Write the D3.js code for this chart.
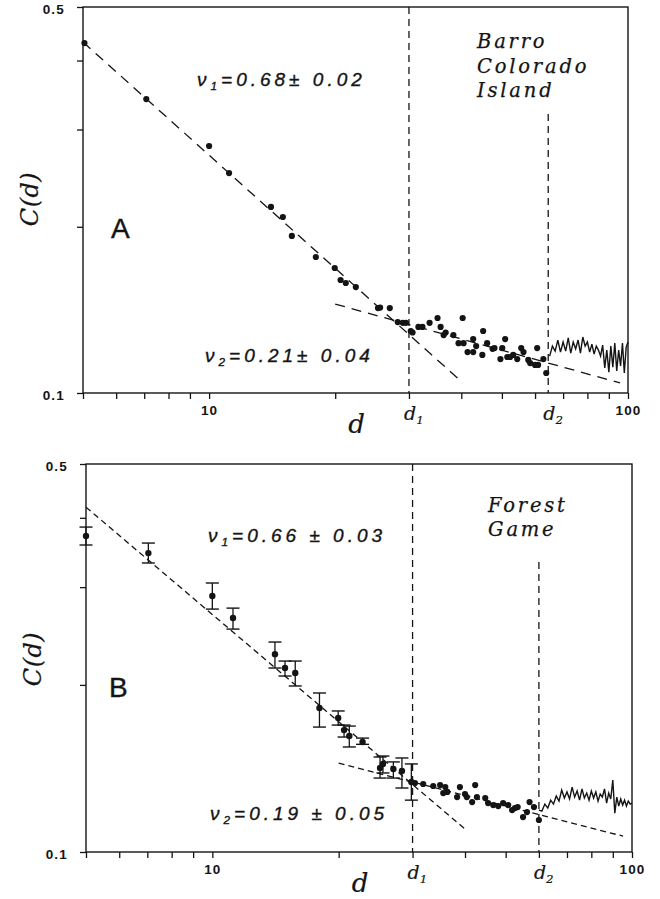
<!DOCTYPE html>
<html>
<head>
<meta charset="utf-8">
<script src="https://cdn.jsdelivr.net/npm/d3@7"></script>
<style>
  body { margin: 0; background: #fff; }
  svg { display: block; }
</style>
</head>
<body>
<div id="chart"></div>
<script>

// AXES
const xTicks = [5, 6, 7, 8, 9, 10, 20, 30, 40, 50, 60, 70, 80, 90, 100];
const xTickLabels = [10, 100];
const yTicks = [0.1, 0.2, 0.3, 0.4, 0.5];
const yTickLabels = [0.1, 0.5];

// PANEL A - Barro Colorado Island
const dotDA = [5.04, 7.08, 10, 11.16, 14.05, 15.0, 15.76, 17.98, 19.95, 20.6, 21.2, 22.4,
  25.3, 25.6, 27.0, 28.2, 29.0, 29.5, 30.3, 30.6, 31.6, 32.3, 33.6, 35.1, 35.7, 36.3, 36.7,
  38.3, 39.4, 40.3, 40.5, 41.4, 42.7, 42.7, 43.4, 44.9, 45.1, 46.1, 47.5, 48.0, 49.6, 50.1,
  50.9, 51.5, 52.3, 53.2, 54.4, 55.6, 56.3, 57.8, 58.4, 60.7, 60.0, 61.0, 62.8, 63.8];
const dotCA = [0.4302, 0.3406, 0.2801, 0.2502, 0.2172, 0.2083, 0.1925, 0.1763, 0.1684, 0.1602, 0.1582, 0.1555,
  0.1425, 0.1428, 0.1425, 0.1344, 0.1340, 0.1340, 0.1295, 0.1287, 0.1317, 0.1317, 0.1340, 0.1367, 0.1317, 0.1273, 0.1287,
  0.1273, 0.1231, 0.1367, 0.1231, 0.1186, 0.1252, 0.1186, 0.1216, 0.1172, 0.1295, 0.1231, 0.1202, 0.1206, 0.1152, 0.1206,
  0.1252, 0.1162, 0.1162, 0.1172, 0.1152, 0.1206, 0.1186, 0.1148, 0.1133, 0.1206, 0.1124, 0.1124, 0.1152, 0.1087];
const noiseDA = [65, 66, 67, 68, 69, 70, 71, 72, 73, 74, 75, 76, 77, 78, 79, 80, 81, 82,
  83, 84, 85, 86, 87, 88, 89, 90, 91, 92, 93, 94, 95, 96, 97, 98, 99, 100];
const noiseCA = [0.1166, 0.1216, 0.1191, 0.1247, 0.1186, 0.1237, 0.1191, 0.1258, 0.1181, 0.1237, 0.1202, 0.1247,
  0.1181, 0.1263, 0.1216, 0.1237, 0.1186, 0.1226, 0.1176, 0.1216, 0.1196, 0.1166, 0.1221, 0.1110,
  0.1196, 0.1091, 0.1216, 0.1114, 0.1231, 0.1096, 0.1196, 0.1119, 0.1231, 0.1087, 0.1211, 0.1237];
const fitA1 = [[5, 0.432], [40.3, 0.1044]];   // nu1 = 0.68
const fitA2 = [[20, 0.1449], [95.7, 0.1043]]; // nu2 = 0.21
const cutsA = [30, 64.5];        // d1, d2
const cutTopA = [0.5, 0.32];     // where the dashed verticals start

// PANEL B - Forest Game
const barDB = [5.0, 7.04, 10, 11.2, 14.1, 14.9, 15.76, 18.0, 19.95, 20.6, 21.2, 22.8, 25.1, 25.5, 27.0, 28.3, 29.8];
const barCB = [0.3709, 0.3455, 0.2891, 0.2639, 0.2272, 0.2145, 0.2101, 0.1817, 0.1743, 0.1658, 0.1618, 0.1578,
  0.1417, 0.1441, 0.1411, 0.1399, 0.1337];
const barHiB = [0.3849, 0.3602, 0.3052, 0.2750, 0.2389, 0.2208, 0.2208, 0.1934, 0.1795, 0.1693, 0.1686, 0.1604,
  0.1483, 0.1489, 0.1453, 0.1477, 0.1441];
const barLoB = [0.3573, 0.3316, 0.2739, 0.2521, 0.2145, 0.2075, 0.1991, 0.1679, 0.1693, 0.1611, 0.1546, 0.1563,
  0.1359, 0.1388, 0.1359, 0.1304, 0.1240];
const dotDB = [30.4, 31.8, 33.6, 34.9, 35.9, 35.5, 36.3, 38.9, 38.3, 40.0, 40.4, 41.6, 42.3, 42.7, 44.7, 45.4,
  46.7, 48.0, 49.3, 50.7, 51.8, 52.6, 53.4, 55.0, 56.2, 57.0, 58.4, 60.0];
const dotCB = [0.1331, 0.1326, 0.1315, 0.1320, 0.1309, 0.1277, 0.1283, 0.1309, 0.1256, 0.1272, 0.1256, 0.1230,
  0.1320, 0.1256, 0.1251, 0.1225, 0.1215, 0.1210, 0.1225, 0.1215, 0.1190, 0.1200, 0.1205, 0.1156, 0.1180,
  0.1230, 0.1205, 0.1142];
const noiseDB = [60, 61, 62, 63, 64, 65, 66, 67, 68, 69, 70, 71, 72, 73, 74, 75, 76, 77, 78, 79, 80,
  81, 82, 83, 84, 85, 86, 87, 88, 89, 90, 91, 92, 93, 94, 95, 96, 97, 98, 99, 100];
const noiseCB = [0.1190, 0.1185, 0.1220, 0.1200, 0.1240, 0.1220, 0.1261, 0.1235, 0.1293, 0.1251, 0.1283,
  0.1246, 0.1309, 0.1256, 0.1288, 0.1240, 0.1299, 0.1251, 0.1277, 0.1240, 0.1288, 0.1251, 0.1283, 0.1235,
  0.1272, 0.1256, 0.1299, 0.1225, 0.1277, 0.1246, 0.1348, 0.1175, 0.1256, 0.1210, 0.1246, 0.1215, 0.1240,
  0.1210, 0.1235, 0.1220, 0.1225];
const fitB1 = [[5, 0.418], [40, 0.110]];     // nu1 = 0.66
const fitB2 = [[20, 0.1446], [95.2, 0.1068]]; // nu2 = 0.19
const cutsB = [30, 60];
const cutTopB = [0.5, 0.333];


const INK = "#141414";
const SANS = "'Liberation Sans', Arial, sans-serif";
const SERIF = "'DejaVu Serif', 'Liberation Serif', serif";
const svg = d3.select("#chart").append("svg").attr("width", 660).attr("height", 899);

// label with subscript: base, sub, rest
function subText(g, x, y, parts, o) {
	const t = g.append("text").attr("x", x).attr("y", y)
		.attr("font-family", o.family).attr("font-style", "italic")
		.attr("font-size", o.size).attr("letter-spacing", o.ls).attr("fill", INK)
		.attr("stroke", INK).attr("stroke-width", o.sw || 0);
	t.append("tspan").text(parts[0]);
	t.append("tspan").attr("font-size", o.size * 0.62).attr("dy", o.size * 0.22).text(parts[1]);
	if (parts[2]) t.append("tspan").attr("dy", -o.size * 0.22).text(parts[2]);
	return t;
}

function drawPanel(p) {
	const x = d3.scaleLog().domain([5, 100]).range([p.left, p.right]);
	const y = d3.scaleLog().domain([0.1, 0.5]).range([p.bottom, p.top]);
	const g = svg.append("g");

	// frame
	g.append("rect").attr("x", p.left).attr("y", p.top)
		.attr("width", p.right - p.left).attr("height", p.bottom - p.top)
		.attr("fill", "none").attr("stroke", INK).attr("stroke-width", 1.4);

	// x axis
	const xa = g.append("g").attr("transform", `translate(0,${p.bottom})`)
		.call(d3.axisBottom(x).tickValues(xTicks).tickSize(6).tickSizeOuter(0).tickPadding(6)
			.tickFormat(d => xTickLabels.includes(d) ? d : ""));
	// y axis
	const ya = g.append("g").attr("transform", `translate(${p.left},0)`)
		.call(d3.axisLeft(y).tickValues(yTicks).tickSize(6).tickSizeOuter(0).tickPadding(12)
			.tickFormat(d => yTickLabels.includes(d) ? d : ""));
	[xa, ya].forEach(a => {
		a.select(".domain").remove();
		a.selectAll("line").attr("stroke", INK).attr("stroke-width", 1.3);
		a.selectAll("text").attr("font-family", SANS).attr("font-weight", "bold")
			.attr("font-size", 13.5).attr("letter-spacing", 1.2).attr("fill", INK);
	});
	ya.selectAll("text").attr("dy", "0.5em");

	// dashed cut lines d1, d2
	p.cuts.forEach((c, i) => {
		g.append("line").attr("x1", x(c)).attr("x2", x(c))
			.attr("y1", y(p.cutTop[i])).attr("y2", p.bottom)
			.attr("stroke", INK).attr("stroke-width", 1.3).attr("stroke-dasharray", "7,5");
		subText(g, x(c) - 5, p.bottom + 27, ["d", String(i + 1)],
			{ family: SERIF, size: 19, ls: 0, sw: 0.2 });
	});

	// fitted power laws
	const line = d3.line().x(d => x(d[0])).y(d => y(d[1]));
	p.fits.forEach(f => {
		g.append("path").attr("d", line(f)).attr("fill", "none")
			.attr("stroke", INK).attr("stroke-width", 1.3).attr("stroke-dasharray", p.fitDash);
	});

	// noisy tail
	g.append("path").attr("d", line(d3.zip(p.noiseD, p.noiseC)))
		.attr("fill", "none").attr("stroke", INK).attr("stroke-width", 1.4);

	// error bars
	if (p.barD) {
		p.barD.forEach((d, i) => {
			const cx = x(d);
			g.append("line").attr("x1", cx).attr("x2", cx)
				.attr("y1", y(p.barHi[i])).attr("y2", y(p.barLo[i]))
				.attr("stroke", INK).attr("stroke-width", 1.3);
			[p.barHi[i], p.barLo[i]].forEach(v => {
				g.append("line").attr("x1", cx - 6.5).attr("x2", cx + 6.5)
					.attr("y1", y(v)).attr("y2", y(v))
					.attr("stroke", INK).attr("stroke-width", 1.4);
			});
		});
		g.selectAll(null).data(d3.zip(p.barD, p.barC)).enter().append("circle")
			.attr("cx", d => x(d[0])).attr("cy", d => y(d[1])).attr("r", 3.2).attr("fill", INK);
	}

	// points
	g.selectAll(null).data(d3.zip(p.dotD, p.dotC)).enter().append("circle")
		.attr("cx", d => x(d[0])).attr("cy", d => y(d[1])).attr("r", 3.1).attr("fill", INK);

	// exponents
	const nuFont = { family: SANS, size: 19, ls: 4.0, sw: 0.35 };
	subText(g, p.nu1Pos[0], p.nu1Pos[1], ["ν", "1", p.nu1], nuFont);
	subText(g, p.nu2Pos[0], p.nu2Pos[1], ["ν", "2", p.nu2], nuFont);

	// panel letter
	g.append("text").attr("x", p.letterPos[0]).attr("y", p.letterPos[1])
		.attr("font-family", SANS).attr("font-size", 28)
		.attr("stroke", INK).attr("stroke-width", 0.4)
		.attr("fill", INK).text(p.letter);

	// site name
	p.name.forEach((s, i) => {
		g.append("text").attr("x", p.namePos[0]).attr("y", p.namePos[1] + i * p.nameStep)
			.attr("font-family", SERIF).attr("font-style", "italic")
			.attr("font-size", 19.5).attr("letter-spacing", 2.8)
			.attr("stroke", INK).attr("stroke-width", 0.25)
			.attr("fill", INK).text(s);
	});

	// axis titles
	g.append("text").attr("transform", `translate(${p.left - 45},${p.ylabelY}) rotate(-90)`)
		.attr("text-anchor", "middle").attr("font-family", SERIF)
		.attr("font-style", "italic").attr("font-size", 24).attr("letter-spacing", 0.5)
		.attr("stroke", INK).attr("stroke-width", 0.2)
		.attr("fill", INK).text("C(d)");
	g.append("text").attr("x", x(22.5)).attr("y", p.bottom + 40)
		.attr("text-anchor", "middle").attr("font-family", SERIF)
		.attr("font-style", "italic").attr("font-size", 26)
		.attr("stroke", INK).attr("stroke-width", 0.2)
		.attr("fill", INK).text("d");
}

drawPanel({
	left: 83, right: 628, top: 7, bottom: 393,
	dotD: dotDA, dotC: dotCA, noiseD: noiseDA, noiseC: noiseCA,
	fits: [fitA1, fitA2], fitDash: "10,7", cuts: cutsA, cutTop: cutTopA,
	nu1: "=0.68± 0.02", nu1Pos: [197, 86], nu2: "=0.21± 0.04", nu2Pos: [205, 362],
	letter: "A", letterPos: [111, 238],
	name: ["Barro", "Colorado", "Island"], namePos: [477, 48], nameStep: 24.5,
	ylabelY: 199
});

drawPanel({
	left: 86, right: 632, top: 464, bottom: 852,
	barD: barDB, barC: barCB, barHi: barHiB, barLo: barLoB,
	dotD: dotDB, dotC: dotCB, noiseD: noiseDB, noiseC: noiseCB,
	fits: [fitB1, fitB2], fitDash: "6,4", cuts: cutsB, cutTop: cutTopB,
	nu1: "=0.66 ± 0.03", nu1Pos: [208, 542], nu2: "=0.19 ± 0.05", nu2Pos: [210, 820],
	letter: "B", letterPos: [109, 697],
	name: ["Forest", "Game"], namePos: [488, 512], nameStep: 23.5,
	ylabelY: 659
});
</script>
</body>
</html>
